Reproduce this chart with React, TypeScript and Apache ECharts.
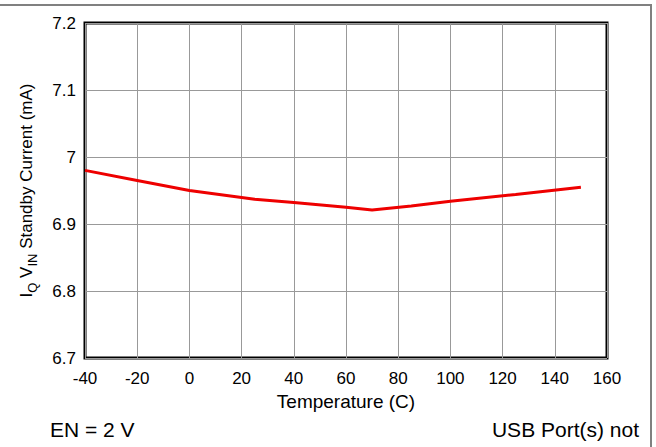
import React, { useEffect, useRef } from "react";
import * as echarts from "echarts";

const temperatures = [-40, -20, 0, 25, 40, 60, 70, 85, 100, 125, 150];
const standbyCurrent = [6.98, 6.965, 6.95, 6.937, 6.932, 6.925, 6.921, 6.927, 6.934, 6.944, 6.955];
const xTicks = { min: -40, max: 160, interval: 20 };
const yTicks = { min: 6.7, max: 7.2, interval: 0.1 };

export default function App() {
  const ref = useRef<HTMLDivElement>(null);
  useEffect(() => {
    if (!ref.current) return;
    const chart = echarts.init(ref.current, undefined, { renderer: "svg" });
    const font = "Liberation Sans, Arial, sans-serif";
    chart.setOption({
      animation: false,
      backgroundColor: "#ffffff",
      grid: { left: 85, right: 49, top: 23, bottom: 89, show: true, borderColor: "#000", borderWidth: 3, containLabel: false },
      xAxis: {
        type: "value",
        min: xTicks.min,
        max: xTicks.max,
        interval: xTicks.interval,
        name: "Temperature (C)",
        nameLocation: "middle",
        nameGap: 27,
        nameTextStyle: { color: "#000", fontSize: 19, fontFamily: font },
        axisLine: { show: false },
        axisTick: { show: false },
        axisLabel: { color: "#000", fontSize: 17, fontFamily: font, margin: 12 },
        splitLine: { show: true, lineStyle: { color: "#999", width: 1 } },
      },
      yAxis: {
        type: "value",
        min: yTicks.min,
        max: yTicks.max,
        interval: yTicks.interval,
        name: "{i|I}{s|Q}{i| V}{s|IN}{i| Standby Current (mA)}",
        nameLocation: "middle",
        nameGap: 50,
        nameTextStyle: {
          color: "#000",
          fontFamily: font,
          rich: {
            i: { fontSize: 17, fontFamily: font, color: "#000", verticalAlign: "bottom", lineHeight: 21 },
            s: { fontSize: 13, fontFamily: font, color: "#000", verticalAlign: "bottom", lineHeight: 15, padding: [0, 0, -4, 0] },
          },
        },
        axisLine: { show: false },
        axisTick: { show: false },
        axisLabel: {
          color: "#000",
          fontSize: 17,
          fontFamily: font,
          margin: 9,
          formatter: (v: number) => String(parseFloat(v.toFixed(2))),
        },
        splitLine: { show: true, lineStyle: { color: "#999", width: 1 } },
      },
      series: [
        {
          type: "line",
          data: temperatures.map((t, i) => [t, standbyCurrent[i]]),
          showSymbol: false,
          lineStyle: { color: "#ee0000", width: 3 },
          itemStyle: { color: "#ee0000" },
          z: 3,
        },
      ],
      graphic: [
        { type: "line", shape: { x1: 0, y1: 5, x2: 651, y2: 5 }, style: { stroke: "#808080", lineWidth: 2 } },
        { type: "line", shape: { x1: 651, y1: 4, x2: 651, y2: 447 }, style: { stroke: "#808080", lineWidth: 2 } },
        {
          type: "text",
          left: 50,
          top: 419,
          style: { text: "EN = 2 V", fill: "#000", fontSize: 21, fontFamily: font },
        },
        {
          type: "text",
          right: 17,
          top: 419,
          style: { text: "USB Port(s) not", fill: "#000", fontSize: 21, fontFamily: font },
        },
      ],
    });
    return () => chart.dispose();
  }, []);
  return <div ref={ref} style={{ width: 656, height: 447, position: "absolute", left: 0, top: 0 }} />;
}
